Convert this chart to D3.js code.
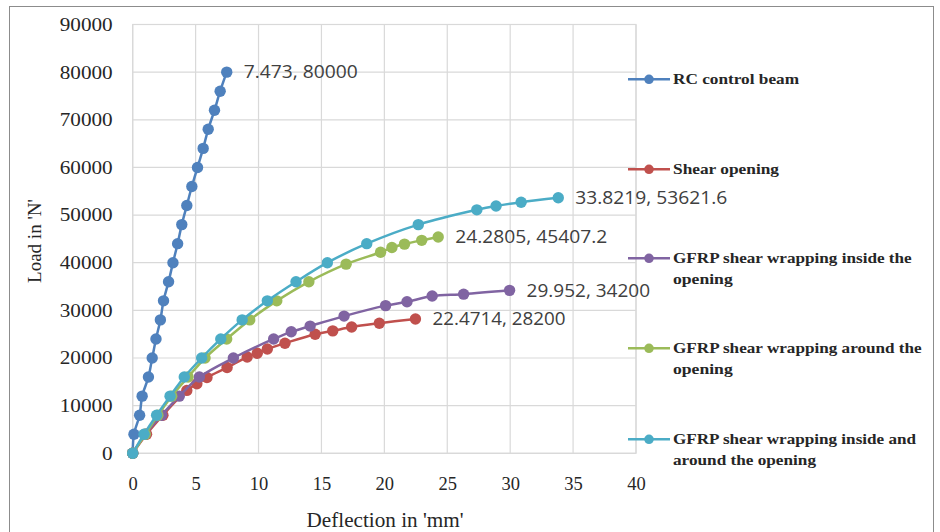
<!DOCTYPE html>
<html><head><meta charset="utf-8">
<script src="https://cdn.jsdelivr.net/npm/d3@7"></script>
<style>body{margin:0;background:#fff;} svg{display:block;}</style>
</head><body>
<svg id="chart" width="940" height="532"></svg>
<script>
const seriesNames = [
  ["RC control beam"],
  ["Shear opening"],
  ["GFRP shear wrapping inside the", "opening"],
  ["GFRP shear wrapping around the", "opening"],
  ["GFRP shear wrapping inside and", "around the opening"]
];
const seriesColors = ["#4F81BD", "#C0504D", "#8064A2", "#9BBB59", "#4BACC6"];

const rcX = [0, 0.1, 0.55, 0.75, 1.25, 1.55, 1.85, 2.2, 2.45, 2.85, 3.2, 3.57, 3.9, 4.3, 4.7, 5.15, 5.6, 6.0, 6.5, 6.95, 7.473];
const rcY = [0, 4000, 8000, 12000, 16000, 20000, 24000, 28000, 32000, 36000, 40000, 44000, 48000, 52000, 56000, 60000, 64000, 68000, 72000, 76000, 80000];

const shearX = [0, 1.1, 2.4, 4.3, 5.1, 5.9, 7.5, 9.1, 9.9, 10.7, 12.1, 14.5, 15.9, 17.4, 19.6, 22.4714];
const shearY = [0, 4000, 8000, 13200, 14600, 15900, 18000, 20200, 21000, 21900, 23100, 25000, 25700, 26500, 27300, 28200];

const insideX = [0, 1.0, 2.3, 3.7, 5.3, 8.0, 11.2, 12.6, 14.1, 16.8, 20.1, 21.8, 23.8, 26.3, 29.952];
const insideY = [0, 4000, 8000, 12000, 16000, 20000, 24000, 25500, 26700, 28800, 31000, 31800, 33000, 33400, 34200];

const aroundX = [0, 1.0, 2.0, 3.1, 4.4, 5.75, 7.47, 9.3, 11.45, 14.0, 16.96, 19.7, 20.6, 21.6, 22.97, 24.2805];
const aroundY = [0, 4000, 8000, 12000, 16000, 20000, 24000, 28000, 32000, 36000, 39700, 42200, 43200, 43900, 44700, 45407.2];

const bothX = [0, 0.9, 1.9, 2.97, 4.1, 5.48, 7.0, 8.7, 10.7, 12.98, 15.47, 18.6, 22.7, 27.35, 28.88, 30.87, 33.8219];
const bothY = [0, 4000, 8000, 12000, 16000, 20000, 24000, 28000, 32000, 36000, 40000, 44000, 48000, 51100, 51900, 52700, 53621.6];

const endLabels = ["7.473, 80000", "22.4714, 28200", "29.952, 34200", "24.2805, 45407.2", "33.8219, 53621.6"];

const xTicks = [0, 5, 10, 15, 20, 25, 30, 35, 40];
const yTicks = [0, 10000, 20000, 30000, 40000, 50000, 60000, 70000, 80000, 90000];
const xTitle = "Deflection in 'mm'";
const yTitle = "Load in 'N'";

const seriesX = [rcX, shearX, insideX, aroundX, bothX];
const seriesY = [rcY, shearY, insideY, aroundY, bothY];

const svg = d3.select("#chart");
const L = 132.7, R = 636, T = 24.5, B = 453.3;
const x = d3.scaleLinear().domain([0, 40]).range([L, R]);
const y = d3.scaleLinear().domain([0, 90000]).range([B, T]);

// outer border
svg.append("rect").attr("x", 9.5).attr("y", 6.5).attr("width", 924).attr("height", 540)
  .attr("fill", "none").attr("stroke", "#8c8c8c").attr("stroke-width", 1);

// gridlines
const grid = svg.append("g");
grid.selectAll("line.v").data(xTicks).join("line")
  .attr("x1", d => x(d)).attr("x2", d => x(d)).attr("y1", T).attr("y2", B)
  .attr("stroke", "#d9d9d9").attr("stroke-width", 1.2);
grid.selectAll("line.h").data(yTicks).join("line")
  .attr("x1", L).attr("x2", R).attr("y1", d => y(d)).attr("y2", d => y(d))
  .attr("stroke", "#d9d9d9").attr("stroke-width", 1.2);
grid.append("rect").attr("x", L).attr("y", T).attr("width", R - L).attr("height", B - T)
  .attr("fill", "none").attr("stroke", "#d9d9d9").attr("stroke-width", 1.2);

// axes (labels only, via d3 axis)
const serif = "'Liberation Serif','Times New Roman',serif";
const yAxis = svg.append("g").attr("transform", `translate(${L},0)`)
  .call(d3.axisLeft(y).tickValues(yTicks).tickSize(0).tickPadding(20).tickFormat(d3.format("d")));
yAxis.select(".domain").remove();
yAxis.selectAll("text").attr("font-family", serif).attr("font-size", 18.5).attr("fill", "#262626")
  .attr("textLength", d => String(d).length * 10.6).attr("lengthAdjust", "spacingAndGlyphs");

const xAxis = svg.append("g").attr("transform", `translate(0,${B})`)
  .call(d3.axisBottom(x).tickValues(xTicks).tickSize(0).tickPadding(24).tickFormat(d3.format("d")));
xAxis.select(".domain").remove();
xAxis.selectAll("text").attr("font-family", serif).attr("font-size", 18.5).attr("fill", "#262626");

// axis titles
svg.append("text").attr("transform", "translate(41,241) rotate(-90)").attr("text-anchor", "middle")
  .attr("font-family", serif).attr("font-size", 19).attr("fill", "#262626").text(yTitle);
svg.append("text").attr("x", 385).attr("y", 527).attr("text-anchor", "middle")
  .attr("font-family", serif).attr("font-size", 20).attr("fill", "#262626")
  .attr("textLength", 157).attr("lengthAdjust", "spacingAndGlyphs").text(xTitle);

// series
const line = d3.line().x(d => x(d[0])).y(d => y(d[1])).curve(d3.curveCatmullRom.alpha(0.5));
seriesX.forEach((xs, i) => {
  const pts = xs.map((v, j) => [v, seriesY[i][j]]);
  const g = svg.append("g");
  g.append("path").datum(pts).attr("d", line).attr("fill", "none")
    .attr("stroke", seriesColors[i]).attr("stroke-width", 2.5);
  g.selectAll("circle").data(pts).join("circle")
    .attr("cx", d => x(d[0])).attr("cy", d => y(d[1])).attr("r", 5.7)
    .attr("fill", seriesColors[i]);
});

// end labels
const sans = "'Open Sans','Liberation Sans',sans-serif";
seriesX.forEach((xs, i) => {
  const n = xs.length - 1;
  svg.append("text").attr("x", x(xs[n]) + 17).attr("y", y(seriesY[i][n])).attr("dy", "0.36em")
    .attr("font-family", sans).attr("font-size", 17.5).attr("fill", "#404040")
    .attr("textLength", endLabels[i].length * 9.5).attr("lengthAdjust", "spacingAndGlyphs")
    .text(endLabels[i]);
});

// legend
const legendY = [79.3, 169.3, 258.3, 348.3, 439.3];
const legendW = [[126], [106], [238.7, 59.7], [248.7, 59.7], [243, 143]];
seriesNames.forEach((lines, i) => {
  const g = svg.append("g").attr("transform", `translate(0,${legendY[i]})`);
  g.append("line").attr("x1", 628).attr("x2", 670).attr("y1", 0).attr("y2", 0)
    .attr("stroke", seriesColors[i]).attr("stroke-width", 2.5);
  g.append("circle").attr("cx", 649).attr("cy", 0).attr("r", 4.8).attr("fill", seriesColors[i]);
  lines.forEach((t, k) => {
    g.append("text").attr("x", 673).attr("y", k * 20.5).attr("dy", "0.33em")
      .attr("font-family", serif).attr("font-weight", "bold").attr("font-size", 15.5).attr("fill", "#262626")
      .attr("textLength", legendW[i][k]).attr("lengthAdjust", "spacingAndGlyphs").text(t);
  });
});
</script>
</body></html>
